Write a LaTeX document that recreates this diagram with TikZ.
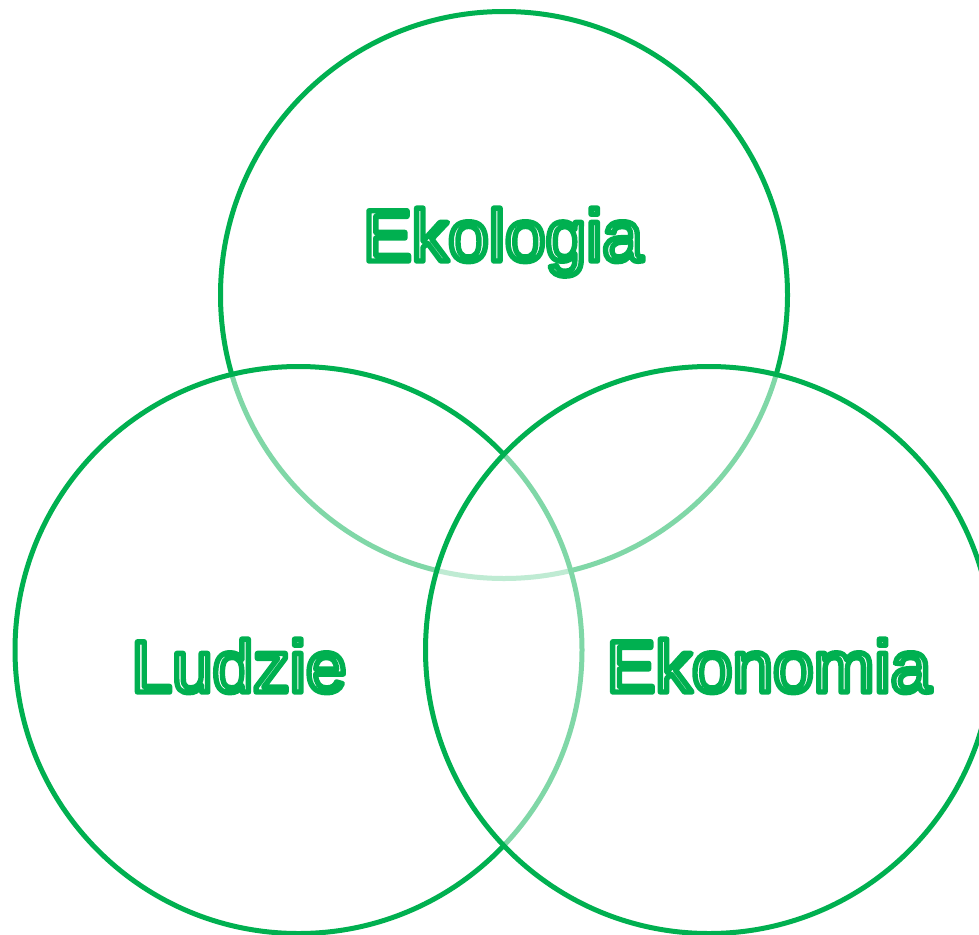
\documentclass[tikz,border=0pt]{standalone}
\usepackage{fontspec}
\setmainfont{Liberation Sans}
\definecolor{vgreen}{RGB}{0,176,80}
\newcommand{\outlinetext}[1]{\special{pdf:literal 2 Tr 5.4 w 1 j 0 0.69 0.314 RG}#1\special{pdf:literal 0 Tr}}
\begin{document}
\begin{tikzpicture}[x=1pt,y=-1pt,
  ring/.style={draw=vgreen, line width=5pt, fill=white, fill opacity=0.5, draw opacity=1},
  lbl/.style={anchor=base, inner sep=0pt, font=\fontsize{73}{80}\selectfont, text=white}]
\useasboundingbox (0,0) rectangle (979,934);
\node[ring, circle, minimum size=567pt, inner sep=0pt] (eko) at (504,295) {};
\node[ring, circle, minimum size=567pt, inner sep=0pt] (lud) at (298.5,650) {};
\node[ring, circle, minimum size=567pt, inner sep=0pt] (ekn) at (709,650) {};
\node[lbl] (t1) at (503,261) {\outlinetext{Ekologia}};
\node[lbl] (t2) at (239,692) {\outlinetext{Ludzie}};
\node[lbl] (t3) at (769,692) {\outlinetext{Ekonomia}};
\end{tikzpicture}
\end{document}
